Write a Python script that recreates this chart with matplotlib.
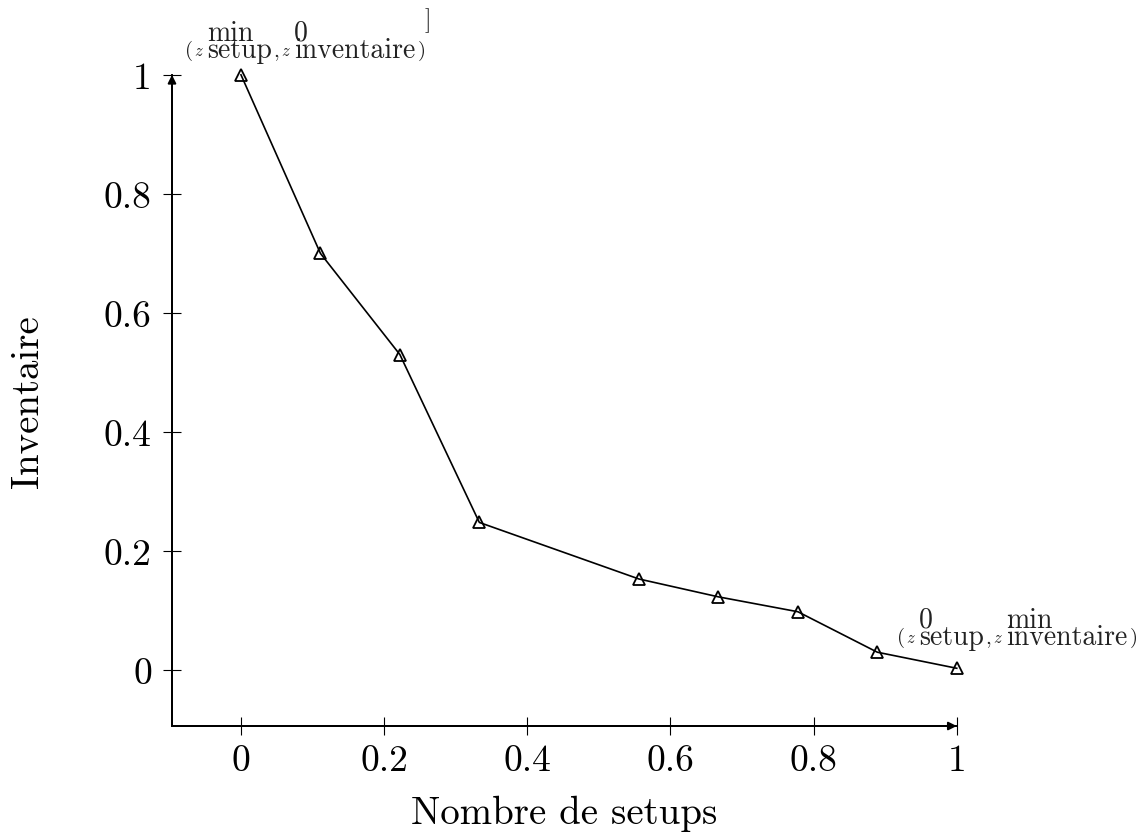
import matplotlib
matplotlib.use("Agg")
import matplotlib.pyplot as plt
from matplotlib.transforms import IdentityTransform

plt.rcParams['font.family'] = ['cmr10', 'DejaVu Serif']
plt.rcParams['mathtext.fontset'] = 'cm'
plt.rcParams['axes.formatter.use_mathtext'] = True

x_vals = [0.0, 0.111, 0.222, 0.333, 0.556, 0.667, 0.778, 0.889, 1.0]
y_vals = [1.0, 0.70, 0.53, 0.248, 0.153, 0.123, 0.098, 0.030, 0.003]
x_ticks = [0, 0.2, 0.4, 0.6, 0.8, 1]
y_ticks = [0, 0.2, 0.4, 0.6, 0.8, 1]
x_ticklabels = ["0", "0.2", "0.4", "0.6", "0.8", "1"]
y_ticklabels = ["0", "0.2", "0.4", "0.6", "0.8", "1"]
xlabel = "Nombre de setups"
ylabel = "Inventaire"
# annotation pieces: (sup, sub) pairs for each coordinate
ann1_parts = [("min", "setup"), ("0", "inventaire")]
ann2_parts = [("0", "setup"), ("min", "inventaire")]

W, H = 1139, 837
fig = plt.figure(figsize=(W / 100, H / 100), dpi=100)
ax = fig.add_axes([0.151, 0.1314, 0.689, 0.778])
ax.set_xlim(-0.0964, 1.0)
ax.set_ylim(-0.094, 1.0)

ax.plot(x_vals, y_vals, color='black', lw=1.2, marker='^', markersize=9,
        markerfacecolor='none', markeredgecolor='black', markeredgewidth=1.3,
        clip_on=False, zorder=3)

for s in ['top', 'right']:
    ax.spines[s].set_visible(False)
for s in ['left', 'bottom']:
    ax.spines[s].set_linewidth(1.4)

ax.annotate('', xy=(0, 1.0), xytext=(0, 0), xycoords='axes fraction',
            arrowprops=dict(arrowstyle='-|>', color='black', lw=1.4,
                            mutation_scale=12, shrinkA=0, shrinkB=0))
ax.annotate('', xy=(1.0, 0), xytext=(0, 0), xycoords='axes fraction',
            arrowprops=dict(arrowstyle='-|>', color='black', lw=1.4,
                            mutation_scale=12, shrinkA=0, shrinkB=0))

ax.set_xticks(x_ticks)
ax.set_xticklabels(x_ticklabels)
ax.set_yticks(y_ticks)
ax.set_yticklabels(y_ticklabels)
ax.tick_params(direction='inout', length=13, width=0.8, labelsize=27)
ax.tick_params(axis='x', pad=6)
ax.tick_params(axis='y', pad=8)

ax.set_xlabel(xlabel, fontsize=28)
ax.set_ylabel(ylabel, fontsize=28)
ax.xaxis.set_label_coords(0.5, -0.105)
ax.yaxis.set_label_coords(-0.16, 0.5)

renderer = fig.canvas.get_renderer()
tr = IdentityTransform()
TXT = '#222222'


def put(x, y, s, size, **kw):
    t = fig.text(x, y, s, fontsize=size, ha='left', va='baseline',
                 transform=tr, color=TXT, **kw)
    return t.get_window_extent(renderer).width


def compound(x0, base, parts):
    x = x0
    x += put(x, base + 2, "(", 15) + 1
    for i, (sup, sub) in enumerate(parts):
        if i > 0:
            x += put(x, base + 1, ",", 15) + 2
        x += put(x, base + 2, r"$z$", 12) + 3
        w = put(x, base, sup + "\n" + sub, 20, linespacing=0.56,
                multialignment='left')
        x += w + 2
    put(x, base + 2, ")", 15)


compound(185, H - 58, ann1_parts)
compound(897, H - 645, ann2_parts)
fig.text(425, H - 27, "]", fontsize=17, ha='left', va='baseline',
         transform=tr, color=TXT)

fig.savefig("out.png", dpi=100)
